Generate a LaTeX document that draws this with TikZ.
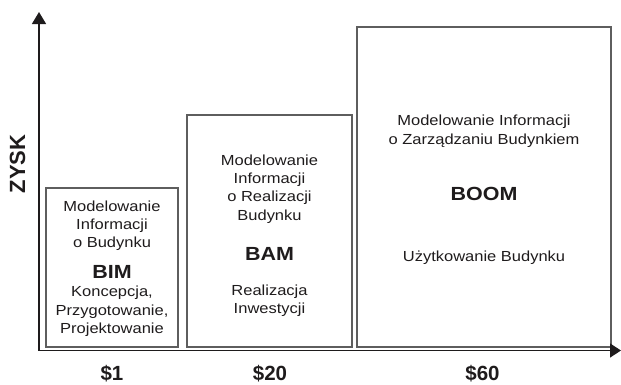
\documentclass[tikz,border=0pt]{standalone}
\usepackage{fontspec}
\setmainfont{Liberation Sans}[FakeStretch=1.13]
\newfontfamily\plainsans{Liberation Sans}
\usetikzlibrary{arrows.meta}
\definecolor{ink}{HTML}{1E1B1C}
\definecolor{boxline}{HTML}{5E5E5E}
\begin{document}
\begin{tikzpicture}[x=1pt,y=-1pt,
  box/.style={draw=boxline, line width=1.4pt, inner sep=0pt, outer sep=0pt, anchor=north west},
  txt/.style={font=\fontsize{14.6}{17}\selectfont, text=ink, anchor=base, inner sep=0pt},
  big/.style={font=\fontsize{19}{22}\selectfont\bfseries, text=ink, anchor=base, inner sep=0pt},
  cost/.style={font=\plainsans\fontsize{20.5}{24}\selectfont\bfseries, text=ink, anchor=base, inner sep=0pt},
  axis/.style={draw=ink, line width=1.4pt, line join=miter, {Triangle[length=12pt,width=14pt]}-{Triangle[length=11pt,width=14pt]}}]
\useasboundingbox (0,0) rectangle (621,384);
% boxes
\node[box, minimum width=132pt, minimum height=159pt] (bim) at (46,188) {};
\node[box, minimum width=165pt, minimum height=232pt] (bam) at (187,115) {};
\node[box, minimum width=254pt, minimum height=320pt] (boom) at (357,27) {};
% axes
\coordinate (o) at (39,350.5);
\coordinate (ytip) at (39,12);
\coordinate (xtip) at (621,350.5);
\draw[axis] (ytip) -- (o) -- (xtip);
% axis label
\node[font=\plainsans\fontsize{22}{24}\selectfont\bfseries, text=ink, rotate=90, inner sep=0pt] (zysk) at (17.5,164) {ZYSK};
% BIM
\node[txt] (bim1) at (112,211.5) {Modelowanie};
\node[txt] (bim2) at (112,229.5) {Informacji};
\node[txt] (bim3) at (112,247) {o Budynku};
\node[big] (bimt) at (112,278.3) {BIM};
\node[txt] (bim4) at (112,296.7) {Koncepcja,};
\node[txt] (bim5) at (112,315) {Przygotowanie,};
\node[txt] (bim6) at (112,333.3) {Projektowanie};
% BAM
\node[txt] (bam1) at (269.5,165) {Modelowanie};
\node[txt] (bam2) at (269.5,183.3) {Informacji};
\node[txt] (bam3) at (269.5,201.7) {o Realizacji};
\node[txt] (bam4) at (269.5,220) {Budynku};
\node[big] (bamt) at (269.5,260) {BAM};
\node[txt] (bam5) at (269.5,295) {Realizacja};
\node[txt] (bam6) at (269.5,313.3) {Inwestycji};
% BOOM
\node[txt] (boom1) at (484,125) {Modelowanie Informacji};
\node[txt] (boom2) at (484,144.3) {o Zarządzaniu Budynkiem};
\node[big] (boomt) at (484,200) {BOOM};
\node[txt] (boom3) at (484,261.7) {Użytkowanie Budynku};
% costs
\node[cost] (c1) at (112,380) {\$1};
\node[cost] (c2) at (270,380) {\$20};
\node[cost] (c3) at (482.5,380) {\$60};
\end{tikzpicture}
\end{document}
